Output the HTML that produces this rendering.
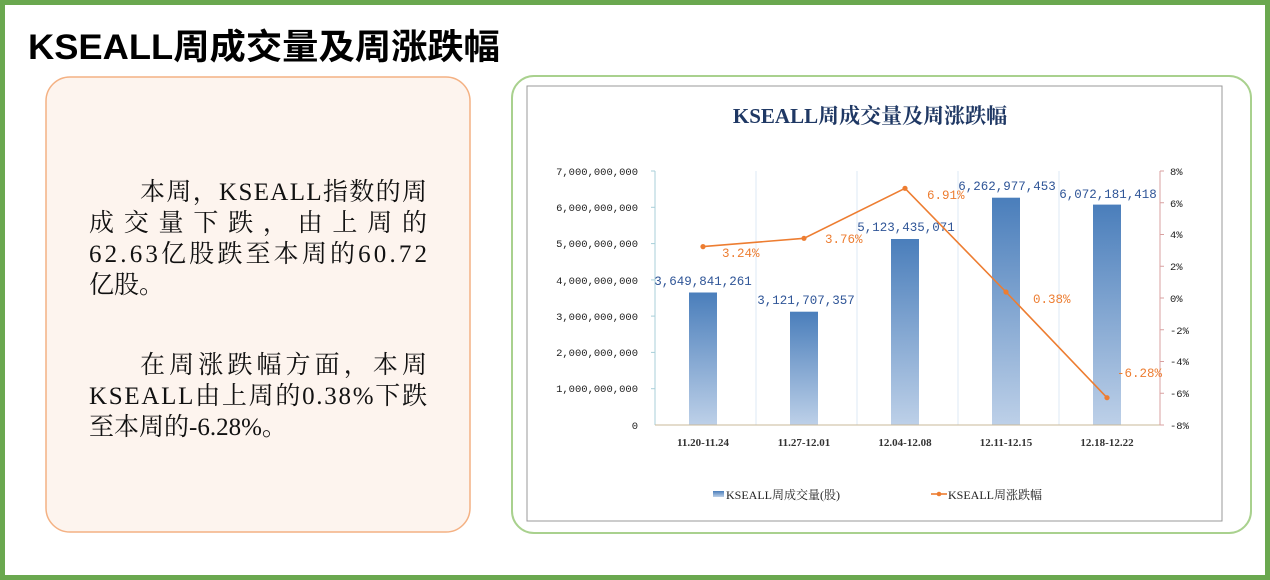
<!DOCTYPE html>
<html><head><meta charset="utf-8"><style>
html,body{margin:0;padding:0;background:#fff;}
body{width:1270px;height:580px;position:relative;overflow:hidden;}
</style></head><body>
<svg width="1270" height="580" xmlns="http://www.w3.org/2000/svg" style="position:absolute;left:0;top:0">
<defs>
<linearGradient id="bg" x1="0" y1="0" x2="0" y2="1">
<stop offset="0" stop-color="#4a7ebb"/><stop offset="1" stop-color="#bdd0e8"/>
</linearGradient>
</defs>
<rect x="2.5" y="2.5" width="1265" height="575" fill="#fff" stroke="#6aa84f" stroke-width="5"/>
<text x="28" y="59" textLength="472" lengthAdjust="spacingAndGlyphs" font-family="'Liberation Sans','Noto Sans CJK SC',sans-serif" font-weight="bold" font-size="35" fill="#000">KSEALL周成交量及周涨跌幅</text>
<rect x="46" y="77" width="424" height="455" rx="24" fill="#fdf4ee" stroke="#f4b183" stroke-width="1.5"/>
<g font-family="'Liberation Serif','Noto Serif CJK SC',serif" font-size="25" fill="#111">
<text x="140" y="200" textLength="287" lengthAdjust="spacing">本周，KSEALL指数的周</text>
<text x="89" y="231" textLength="338" lengthAdjust="spacing">成交量下跌，由上周的</text>
<text x="89" y="262" textLength="338" lengthAdjust="spacing">62.63亿股跌至本周的60.72</text>
<text x="89" y="293">亿股。</text>
<text x="140" y="373" textLength="287" lengthAdjust="spacing">在周涨跌幅方面，本周</text>
<text x="89" y="404" textLength="338" lengthAdjust="spacing">KSEALL由上周的0.38%下跌</text>
<text x="89" y="435">至本周的-6.28%。</text>
</g>
<rect x="512" y="76" width="739" height="457" rx="22" fill="#fff" stroke="#a9d18e" stroke-width="2"/>
<rect x="527" y="86" width="695" height="435" fill="#fff" stroke="#999" stroke-width="1"/>
<text x="870" y="123" text-anchor="middle" font-family="'Liberation Serif','Noto Serif CJK SC',serif" font-size="21" font-weight="bold" fill="#1f3864">KSEALL周成交量及周涨跌幅</text>
<g stroke="#dde8f4" stroke-width="1">
<line x1="756" y1="171" x2="756" y2="425"/><line x1="857" y1="171" x2="857" y2="425"/>
<line x1="958" y1="171" x2="958" y2="425"/><line x1="1059" y1="171" x2="1059" y2="425"/>
</g>
<g fill="url(#bg)">
<rect x="689" y="292.5" width="28" height="132.5"/>
<rect x="790" y="311.7" width="28" height="113.3"/>
<rect x="891" y="239" width="28" height="186"/>
<rect x="992" y="197.7" width="28" height="227.3"/>
<rect x="1093" y="204.6" width="28" height="220.4"/>
</g>
<line x1="655" y1="171" x2="655" y2="425" stroke="#a8cfd8"/>
<line x1="655" y1="425" x2="1160" y2="425" stroke="#c9b99a"/>
<line x1="1160" y1="171" x2="1160" y2="425" stroke="#d9a0a0"/>
<g stroke="#a8cfd8"><line x1="651" y1="171" x2="655" y2="171"/><line x1="651" y1="207.3" x2="655" y2="207.3"/><line x1="651" y1="243.6" x2="655" y2="243.6"/><line x1="651" y1="279.9" x2="655" y2="279.9"/><line x1="651" y1="316.1" x2="655" y2="316.1"/><line x1="651" y1="352.4" x2="655" y2="352.4"/><line x1="651" y1="388.7" x2="655" y2="388.7"/></g>
<g stroke="#d9a0a0"><line x1="1160" y1="171" x2="1164" y2="171"/><line x1="1160" y1="202.75" x2="1164" y2="202.75"/><line x1="1160" y1="234.5" x2="1164" y2="234.5"/><line x1="1160" y1="266.25" x2="1164" y2="266.25"/><line x1="1160" y1="298" x2="1164" y2="298"/><line x1="1160" y1="329.75" x2="1164" y2="329.75"/><line x1="1160" y1="361.5" x2="1164" y2="361.5"/><line x1="1160" y1="393.25" x2="1164" y2="393.25"/><line x1="1160" y1="425" x2="1164" y2="425"/></g>
<g font-family="'Liberation Mono',monospace" font-size="10.5" fill="#222" text-anchor="end">
<text x="638" y="175">7,000,000,000</text><text x="638" y="211">6,000,000,000</text><text x="638" y="247">5,000,000,000</text><text x="638" y="284">4,000,000,000</text><text x="638" y="320">3,000,000,000</text><text x="638" y="356">2,000,000,000</text><text x="638" y="392">1,000,000,000</text><text x="638" y="429">0</text>
</g>
<g font-family="'Liberation Mono',monospace" font-size="10.5" fill="#222">
<text x="1170" y="175">8%</text><text x="1170" y="207">6%</text><text x="1170" y="238">4%</text><text x="1170" y="270">2%</text><text x="1170" y="302">0%</text><text x="1170" y="334">-2%</text><text x="1170" y="365">-4%</text><text x="1170" y="397">-6%</text><text x="1170" y="429">-8%</text>
</g>
<g font-family="'Liberation Serif',serif" font-size="11" font-weight="bold" fill="#333" text-anchor="middle">
<text x="703" y="446">11.20-11.24</text><text x="804" y="446">11.27-12.01</text><text x="905" y="446">12.04-12.08</text><text x="1006" y="446">12.11-12.15</text><text x="1107" y="446">12.18-12.22</text>
</g>
<g font-family="'Liberation Mono',monospace" font-size="12.5" fill="#2f5597" text-anchor="middle">
<text x="703" y="285">3,649,841,261</text><text x="806" y="304">3,121,707,357</text><text x="906" y="231">5,123,435,071</text><text x="1007" y="190">6,262,977,453</text><text x="1108" y="198">6,072,181,418</text>
</g>
<polyline points="703,246.6 804,238.3 905,188.3 1006,292 1107,397.7" fill="none" stroke="#ed7d31" stroke-width="1.6"/>
<g fill="#ed7d31"><circle cx="703" cy="246.6" r="2.6"/><circle cx="804" cy="238.3" r="2.6"/><circle cx="905" cy="188.3" r="2.6"/><circle cx="1006" cy="292" r="2.6"/><circle cx="1107" cy="397.7" r="2.6"/></g>
<g font-family="'Liberation Mono',monospace" font-size="12.5" fill="#ed7d31">
<text x="722" y="257">3.24%</text><text x="825" y="243">3.76%</text><text x="927" y="199">6.91%</text><text x="1033" y="303">0.38%</text><text x="1117" y="377">-6.28%</text>
</g>
<rect x="713" y="491" width="11" height="6" fill="url(#bg)"/>
<text x="726" y="499" font-family="'Liberation Serif','Noto Serif CJK SC',serif" font-size="12" fill="#222">KSEALL周成交量(股)</text>
<line x1="931" y1="494" x2="947" y2="494" stroke="#ed7d31" stroke-width="1.6"/><circle cx="939" cy="494" r="2.3" fill="#ed7d31"/>
<text x="948" y="499" font-family="'Liberation Serif','Noto Serif CJK SC',serif" font-size="12" fill="#222">KSEALL周涨跌幅</text>
</svg>
</body></html>
